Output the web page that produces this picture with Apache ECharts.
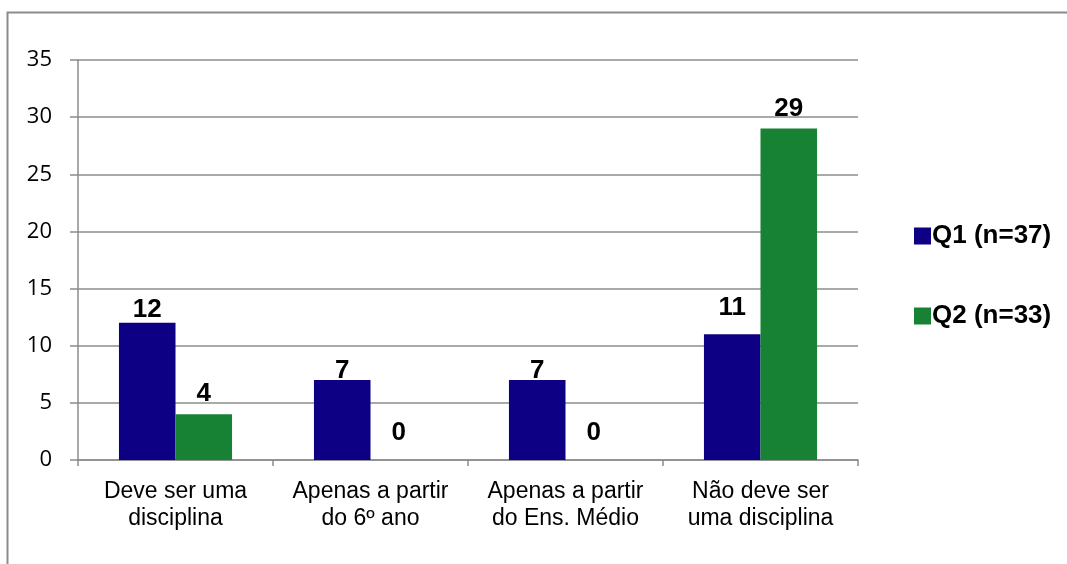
<!DOCTYPE html>
<html>
<head>
<meta charset="utf-8">
<style>
  html, body { margin: 0; padding: 0; background: #fff; }
  #chart { width: 1067px; height: 564px; }
</style>
<script src="https://cdn.jsdelivr.net/npm/echarts@6/dist/echarts.min.js"></script>
</head>
<body>
<div id="chart"></div>
<script>
// Respostas por categoria
const categories = ['Deve ser uma\ndisciplina', 'Apenas a partir\ndo 6º ano', 'Apenas a partir\ndo Ens. Médio', 'Não deve ser\numa disciplina'];
const q1Values = [12, 7, 7, 11];
const q2Values = [4, 0, 0, 29];
const seriesNames = ['Q1 (n=37)', 'Q2 (n=33)'];
const yTicks = { min: 0, max: 35, interval: 5 };

// spacing between each value label and its bar (px)
const q1LabelGap = [0, -4, -4, 13];
const q2LabelGap = [7, 14, 14, 7];

const chart = echarts.init(document.getElementById('chart'));

const labelStyle = {
  show: true,
  position: 'top',
  color: '#000',
  fontFamily: 'Liberation Sans, Arial, sans-serif',
  fontWeight: 'bold',
  fontSize: 26
};

function withLabels(values, gaps) {
  return values.map((v, i) => ({ value: v, label: { distance: gaps[i] } }));
}

chart.setOption({
  animation: false,
  graphic: [{
    type: 'rect',
    shape: { x: 7.5, y: 12.5, width: 1100, height: 600 },
    style: { fill: 'none', stroke: '#8c8c8c', lineWidth: 2 },
    silent: true
  }],
  legend: {
    orient: 'vertical',
    left: 909,
    top: 218,
    itemWidth: 17,
    itemHeight: 17,
    itemGap: 54,
    icon: 'rect',
    textStyle: {
      fontFamily: 'Liberation Sans, Arial, sans-serif',
      fontWeight: 'bold',
      fontSize: 26,
      lineHeight: 25,
      color: '#000',
      padding: [0, 0, 0, -4]
    },
    data: seriesNames
  },
  grid: { left: 78, top: 60, width: 780, height: 400, containLabel: false },
  xAxis: {
    type: 'category',
    data: categories,
    axisLine: { lineStyle: { color: '#8c8c8c', width: 1.5 } },
    axisTick: { show: true, length: 6, lineStyle: { color: '#8c8c8c', width: 1.5 } },
    axisLabel: {
      color: '#000',
      fontFamily: 'Liberation Sans, Arial, sans-serif',
      fontSize: 23,
      lineHeight: 27,
      margin: 18,
      interval: 0
    }
  },
  yAxis: {
    type: 'value',
    min: yTicks.min,
    max: yTicks.max,
    interval: yTicks.interval,
    axisLine: { show: true, lineStyle: { color: '#8c8c8c', width: 1.5 } },
    axisTick: { show: true, length: 8, lineStyle: { color: '#8c8c8c', width: 1.5 } },
    splitLine: { lineStyle: { color: '#8c8c8c', width: 1.5 } },
    axisLabel: {
      color: '#000',
      fontFamily: 'Open Sans, Liberation Sans, sans-serif',
      fontSize: 22,
      margin: 26
    }
  },
  series: [
    {
      name: seriesNames[0],
      type: 'bar',
      data: withLabels(q1Values, q1LabelGap),
      barGap: '0%',
      barCategoryGap: '42%',
      itemStyle: { color: '#0d0084' },
      label: labelStyle
    },
    {
      name: seriesNames[1],
      type: 'bar',
      data: withLabels(q2Values, q2LabelGap),
      itemStyle: { color: '#178233' },
      label: labelStyle
    }
  ]
});
</script>
</body>
</html>
